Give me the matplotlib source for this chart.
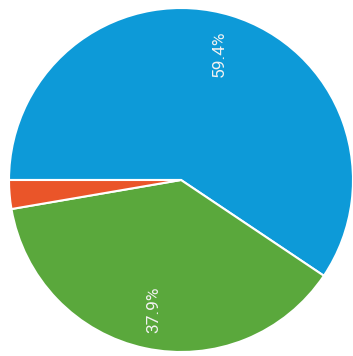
import matplotlib
matplotlib.use("Agg")
import matplotlib.pyplot as plt

labels = ["Blue", "Green", "Red"]
shares = [59.4, 37.9, 2.7]
colors = ["#0d9ad8", "#5aa83c", "#ea5529"]

fig = plt.figure(figsize=(3.53, 3.56), dpi=100)
ax = fig.add_axes([9 / 353, 4 / 356, 344 / 353, 344 / 356])

wedges, texts, autotexts = ax.pie(
    shares,
    colors=colors,
    startangle=180,
    counterclock=False,
    autopct="%.1f%%",
    pctdistance=0.77,
    wedgeprops={"edgecolor": "white", "linewidth": 1.5},
    textprops={"color": "#f2f2f2", "fontsize": 12.5, "family": "Roboto"},
)
autotexts[2].set_visible(False)
for t in autotexts:
    t.set_rotation(90)

ax.set_xlim(-1, 1)
ax.set_ylim(-1, 1)
ax.set_aspect("equal")

fig.savefig("out.png", dpi=100)
